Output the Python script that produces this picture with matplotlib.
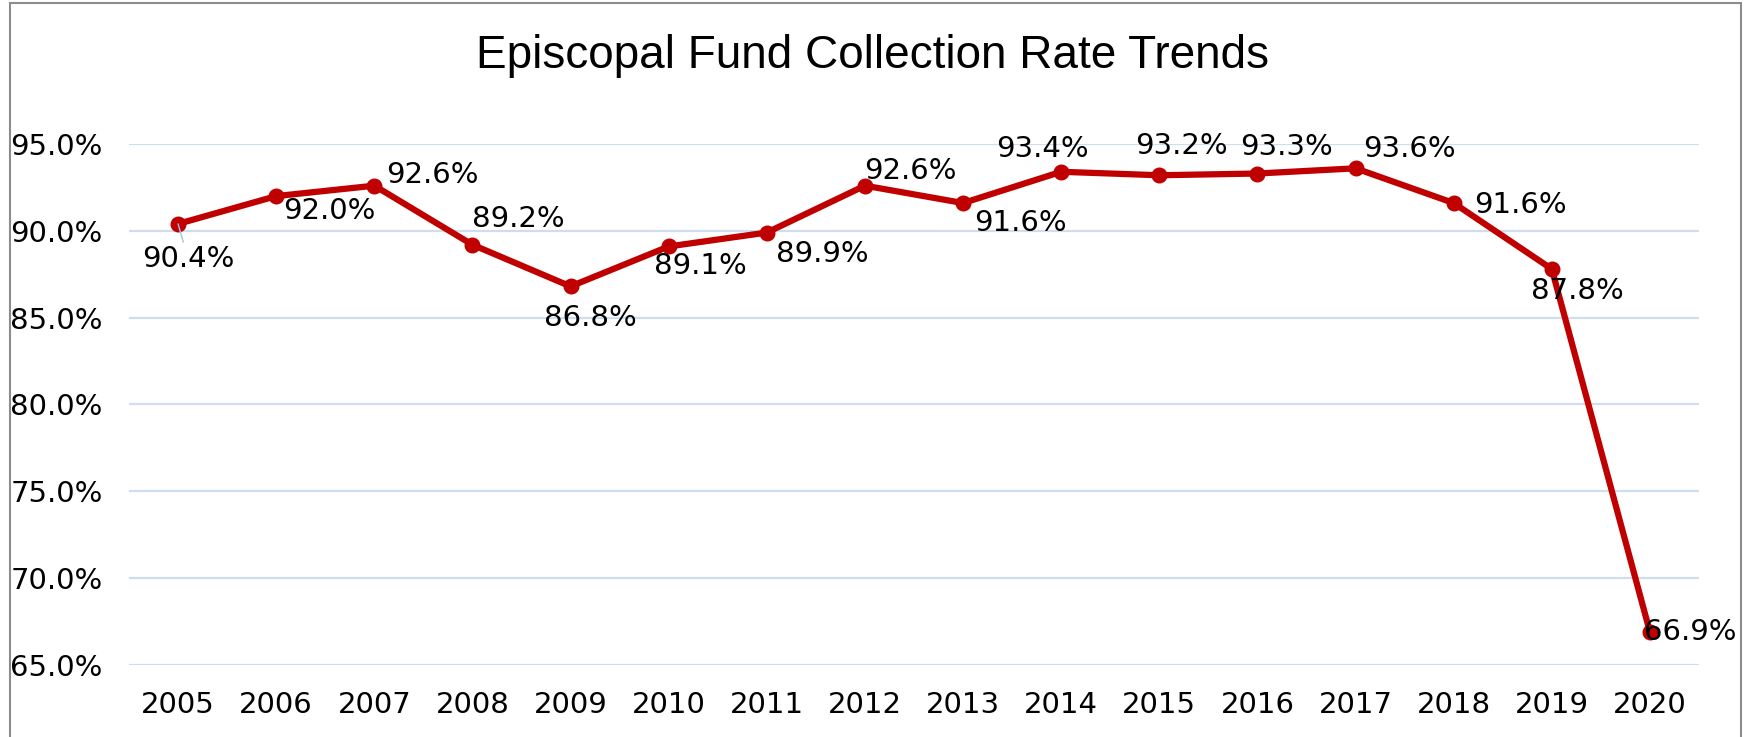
import matplotlib
matplotlib.use("Agg")
import matplotlib.pyplot as plt
from matplotlib.patches import Rectangle
from matplotlib.ticker import FuncFormatter

years = ["2005", "2006", "2007", "2008", "2009", "2010", "2011", "2012",
         "2013", "2014", "2015", "2016", "2017", "2018", "2019", "2020"]
rates = [90.4, 92.0, 92.6, 89.2, 86.8, 89.1, 89.9, 92.6,
         91.6, 93.4, 93.2, 93.3, 93.6, 91.6, 87.8, 66.9]
yticks = [65, 70, 75, 80, 85, 90, 95]
title = "Episcopal Fund Collection Rate Trends"

# label offsets in pixels (dx right, dy down)
offsets = [(10, 35), (53, 15), (58, -11), (46, -26), (20, 32), (32, 20),
           (55, 21), (45, -15), (57, 20), (-19, -23), (22, -29), (29, -27),
           (54, -19), (67, 2), (26, 22), (40, 0)]

W, H = 1744, 737
fig = plt.figure(figsize=(W / 100, H / 100), dpi=100)
left, right, top, bottom = 129, 1699, 144, 665
ax = fig.add_axes([left / W, 1 - bottom / H, (right - left) / W, (bottom - top) / H])

x = list(range(len(years)))
ax.plot(x, rates, color="#C00000", lw=4.5, marker="o", markersize=10.5, zorder=3,
        solid_joinstyle="round")

ax.set_xlim(-0.5, len(years) - 0.5)
ax.set_ylim(65, 95)
ax.set_yticks(yticks)
ax.yaxis.set_major_formatter(FuncFormatter(lambda v, p: f"{v:.1f}%"))
ax.set_xticks(x)
ax.set_xticklabels(years)
ax.grid(axis="y", color="#CFDDF0", lw=1.6, zorder=0)
ax.set_axisbelow(True)
for s in ax.spines.values():
    s.set_visible(False)
ax.tick_params(axis="both", length=0, labelsize=21, colors="black")
ax.tick_params(axis="y", pad=19)
ax.tick_params(axis="x", pad=19)

for i, (v, (dx, dy)) in enumerate(zip(rates, offsets)):
    kw = {}
    if i == 0:
        kw["arrowprops"] = dict(arrowstyle="-", color="#9DC3E6", lw=1,
                                shrinkA=0, shrinkB=0)
    ax.annotate(f"{v:.1f}%", xy=(i, v), xytext=(dx, -dy),
                textcoords="offset pixels", ha="center", va="center",
                fontsize=21, color="black", zorder=4, annotation_clip=False, **kw)

fig.text(0.5, 1 - 68 / H, title, ha="center", va="baseline",
         fontsize=33, family="Liberation Sans", color="black")

fig.patches.append(Rectangle((10 / W, -0.05), (1741 - 10) / W, 1.05 - 3 / H,
                             transform=fig.transFigure, fill=False,
                             edgecolor="#8C8C8C", lw=1.5, clip_on=False))

fig.savefig("out.png", dpi=100)
